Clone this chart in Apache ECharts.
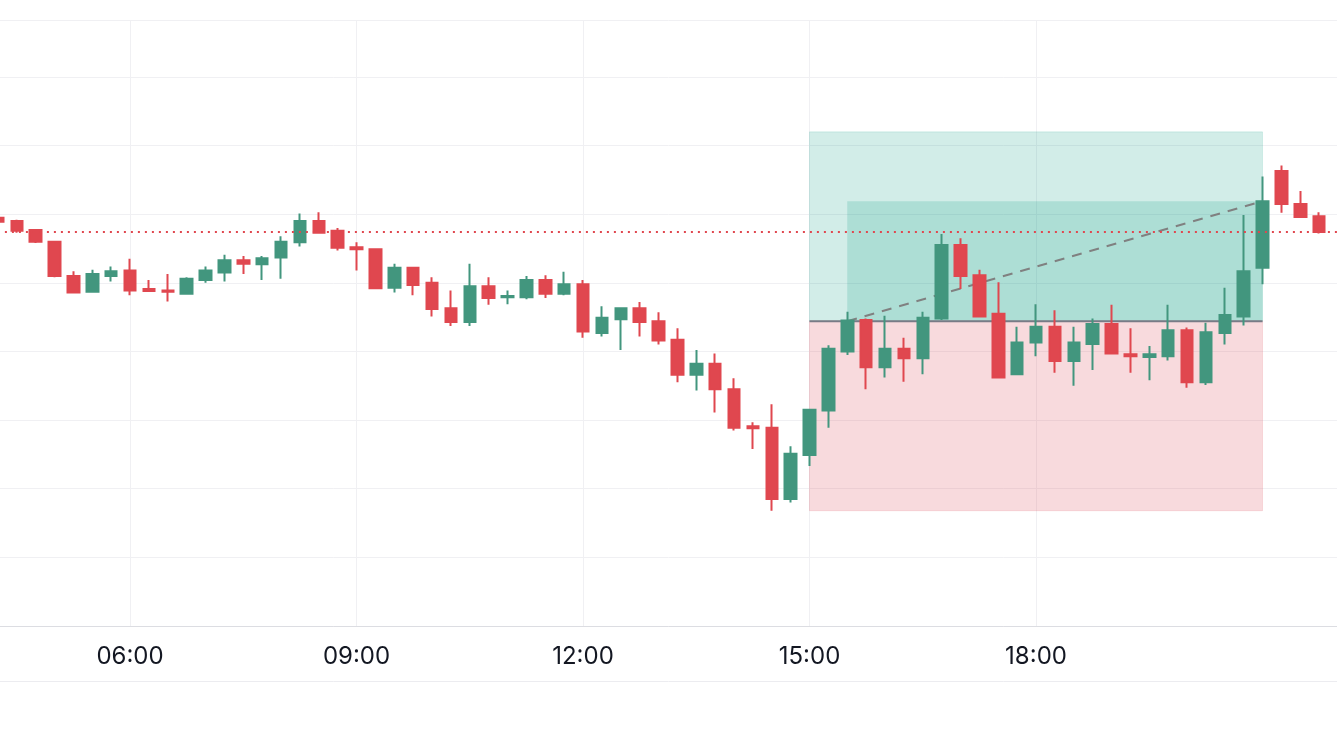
<!DOCTYPE html>
<html>
<head>
<meta charset="utf-8">
<script src="https://cdn.jsdelivr.net/npm/echarts/dist/echarts.min.js"></script>
<style>
html,body{margin:0;padding:0;background:#ffffff;}
#chart{width:1337px;height:752px;}
</style>
</head>
<body>
<div id="chart"></div>
<script>
// ---- data (15-minute candles) ----
const categories = [
  '04:15','04:30','04:45','05:00','05:15','05:30','05:45','06:00','06:15','06:30',
  '06:45','07:00','07:15','07:30','07:45','08:00','08:15','08:30','08:45','09:00',
  '09:15','09:30','09:45','10:00','10:15','10:30','10:45','11:00','11:15','11:30',
  '11:45','12:00','12:15','12:30','12:45','13:00','13:15','13:30','13:45','14:00',
  '14:15','14:30','14:45','15:00','15:15','15:30','15:45','16:00','16:15','16:30',
  '16:45','17:00','17:15','17:30','17:45','18:00','18:15','18:30','18:45','19:00',
  '19:15','19:30','19:45','20:00','20:15','20:30','20:45','21:00','21:15','21:30',
  '21:45','22:00'
];
const openVals = [
  1059.5,1059.0,1057.7,1056.0,1051.0,1048.7,1051.0,1051.8,1049.1,1048.9,
  1048.4,1050.4,1051.5,1053.3,1052.7,1053.7,1055.9,1059.0,1057.6,1055.2,
  1054.9,1049.3,1052.2,1050.0,1046.3,1044.3,1049.5,1047.9,1047.9,1050.4,
  1048.4,1049.8,1042.7,1044.7,1046.3,1044.4,1041.7,1036.6,1038.2,1034.5,
  1029.1,1028.9,1018.5,1024.9,1031.4,1040.0,1044.6,1037.7,1040.4,1039.0,
  1044.8,1055.5,1051.1,1045.5,1036.7,1041.3,1043.6,1038.6,1041.1,1044.0,
  1039.6,1039.2,1039.3,1043.1,1035.5,1042.7,1045.1,1052.2,1066.3,1061.5,
  1059.7
];
const closeVals = [
  1058.9,1057.6,1056.0,1051.0,1048.6,1051.3,1051.7,1048.9,1048.8,1048.7,
  1050.6,1051.8,1053.3,1052.8,1053.6,1056.0,1059.0,1057.3,1055.1,1054.9,
  1049.2,1052.2,1049.7,1046.2,1044.3,1049.5,1047.8,1048.1,1050.4,1048.4,
  1049.8,1042.9,1044.9,1046.3,1044.3,1041.6,1036.6,1038.2,1034.5,1028.9,
  1028.8,1018.5,1025.1,1031.5,1040.4,1044.5,1037.7,1040.4,1039.0,1044.9,
  1055.5,1051.0,1045.1,1036.2,1041.3,1043.6,1038.6,1041.3,1044.0,1039.7,
  1039.3,1039.6,1043.1,1035.5,1042.8,1045.3,1051.7,1061.9,1061.5,1059.6,
  1057.4
];
const lowVals = [
  1058.7,1057.3,1055.8,1050.8,1048.5,1048.6,1050.2,1048.2,1048.7,1047.3,
  1048.4,1050.0,1050.2,1051.3,1050.4,1050.6,1055.3,1057.2,1054.7,1051.8,
  1049.1,1048.6,1048.2,1045.1,1043.7,1043.7,1046.8,1046.9,1047.6,1047.8,
  1048.2,1042.0,1042.2,1040.2,1042.2,1041.0,1035.5,1034.3,1031.1,1028.5,
  1025.8,1016.8,1018.0,1023.3,1028.9,1039.5,1034.5,1036.2,1035.6,1036.7,
  1044.6,1049.1,1045.0,1036.1,1036.6,1039.3,1036.9,1035.0,1037.3,1039.6,
  1036.9,1035.8,1038.7,1034.7,1035.1,1041.0,1043.8,1049.8,1060.2,1059.5,
  1057.2
];
const highVals = [
  1059.6,1059.2,1057.7,1056.1,1051.7,1051.9,1052.4,1053.5,1050.4,1051.3,
  1050.8,1052.4,1054.1,1053.9,1053.9,1056.8,1060.1,1060.3,1058.0,1055.9,
  1055.0,1052.8,1052.3,1050.8,1048.9,1052.8,1050.8,1048.9,1051.0,1051.1,
  1051.6,1050.4,1046.6,1046.4,1047.2,1045.7,1043.4,1040.2,1039.7,1036.1,
  1029.7,1032.3,1026.2,1031.6,1040.9,1045.8,1044.8,1045.2,1042.0,1045.8,
  1057.1,1056.5,1051.9,1050.1,1043.6,1046.9,1046.0,1043.6,1044.8,1046.8,
  1043.4,1040.8,1046.8,1043.5,1044.2,1049.3,1059.9,1065.5,1067.1,1063.4,
  1060.3
];
const tickLabels = ['06:00','09:00','12:00','15:00','18:00'];

// long-position tool
const entryPrice = 1044.4;
const targetPrice = 1072.0;
const stopPrice = 1016.8;
const exitPrice = 1061.9;
const positionStart = '15:00';
const positionFill = '15:30';
const positionEnd = '21:00';

const lastClose = closeVals[closeVals.length - 1];
const ohlc = openVals.map((o, i) => [o, closeVals[i], lowVals[i], highVals[i]]);

const UP = '#42967e';
const DOWN = '#e0474f';
const GRID = '#f0f0f3';
const showTick = (idx, val) => tickLabels.indexOf(val) >= 0;

const chart = echarts.init(document.getElementById('chart'), null, {renderer: 'canvas'});
chart.setOption({
  animation: false,
  backgroundColor: '#ffffff',
  grid: {left: -2.1, right: -1, top: 20, bottom: 126, containLabel: false, outerBoundsMode: 'none'},
  xAxis: [{
    type: 'category',
    data: categories,
    boundaryGap: false,
    axisLine: {show: true, lineStyle: {color: '#dcdde2', width: 1}},
    axisTick: {show: false},
    axisLabel: {
      interval: showTick, color: '#131722', fontSize: 24,
      fontFamily: 'Inter, Roboto, sans-serif', margin: 19, hideOverlap: false
    },
    splitLine: {show: true, interval: showTick, lineStyle: {color: GRID, width: 1}}
  }, {
    type: 'category',
    data: categories,
    boundaryGap: false,
    position: 'bottom',
    offset: 55,
    axisLine: {show: true, lineStyle: {color: '#ececf0', width: 1}},
    axisTick: {show: false},
    axisLabel: {show: false},
    splitLine: {show: false}
  }],
  yAxis: {
    type: 'value',
    position: 'right',
    min: 1000,
    max: 1088.3,
    interval: 10,
    axisLine: {show: false},
    axisTick: {show: false},
    axisLabel: {show: false},
    splitLine: {show: true, lineStyle: {color: GRID, width: 1}}
  },
  series: [{
    type: 'line',
    name: 'zones',
    data: [],
    z: 1,
    silent: true,
    markArea: {
      silent: true,
      z: 1,
      data: [
        [{xAxis: positionStart, yAxis: entryPrice,
          itemStyle: {color: 'rgba(8,153,129,0.18)', borderColor: 'rgba(8,153,129,0.12)', borderWidth: 1}},
         {xAxis: positionEnd, yAxis: targetPrice}],
        [{xAxis: positionFill, yAxis: entryPrice,
          itemStyle: {color: 'rgba(8,153,129,0.18)', borderWidth: 0}},
         {xAxis: positionEnd, yAxis: exitPrice}],
        [{xAxis: positionStart, yAxis: entryPrice,
          itemStyle: {color: 'rgba(222,72,84,0.2)', borderColor: 'rgba(222,72,84,0.15)', borderWidth: 1}},
         {xAxis: positionEnd, yAxis: stopPrice}]
      ]
    }
  }, {
    type: 'line',
    name: 'entry',
    data: [[positionStart, entryPrice], [positionEnd, entryPrice]],
    z: 2,
    silent: true,
    symbol: 'none',
    lineStyle: {color: '#787b86', width: 2}
  }, {
    type: 'line',
    name: 'path',
    data: [[positionFill, entryPrice], [positionEnd, exitPrice]],
    z: 2,
    silent: true,
    symbol: 'none',
    lineStyle: {color: '#808080', width: 2, type: [10, 8]}
  }, {
    type: 'candlestick',
    name: 'price',
    data: ohlc,
    z: 3,
    barWidth: 12,
    itemStyle: {
      color: UP, color0: DOWN,
      borderColor: UP, borderColor0: DOWN,
      borderWidth: 2
    },
    markLine: {
      silent: true,
      symbol: ['none', 'none'],
      label: {show: false},
      lineStyle: {color: DOWN, width: 2, type: [2, 5]},
      data: [{yAxis: lastClose}]
    }
  }]
});
</script>
</body>
</html>
